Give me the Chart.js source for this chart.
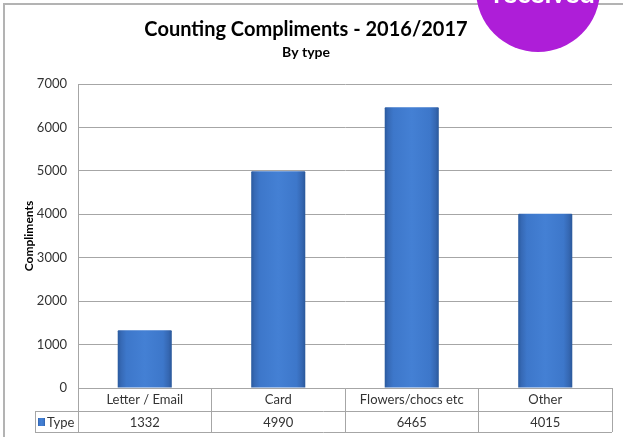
<!DOCTYPE html>
<html>
<head>
<meta charset="utf-8">
<script src="https://cdn.jsdelivr.net/npm/chart.js@4.4.1/dist/chart.umd.min.js"></script>
<style>
  html, body { margin: 0; padding: 0; background: #ffffff; }
  #wrap { width: 623px; height: 437px; position: relative; }
</style>
</head>
<body>
<div id="wrap"><canvas id="chart"></canvas></div>
<script>
// Compliments received, by type
const categories = ['Letter / Email', 'Card', 'Flowers/chocs etc', 'Other'];
const typeCounts = [1332, 4990, 6465, 4015];
const seriesName = 'Type';
const yMin = 0;
const yMax = 7000;
const yStep = 1000;
const chartTitle = 'Counting Compliments - 2016/2017';
const chartSubtitle = 'By type';
const yAxisTitle = 'Compliments';
const badgeText = 'received';

const FONT = 'Lato, "Open Sans", sans-serif';
const GRID = '#a6a6a6';
const BAR_PCT = 0.405;

function barGradient(ctx, x0, x1) {
  const g = ctx.createLinearGradient(x0, 0, x1, 0);
  g.addColorStop(0, '#2a5a9e');
  g.addColorStop(0.06, '#3669b5');
  g.addColorStop(0.16, '#3d77ca');
  g.addColorStop(0.5, '#4480d4');
  g.addColorStop(0.84, '#3d77ca');
  g.addColorStop(0.94, '#3567b2');
  g.addColorStop(1, '#2a589a');
  return g;
}

// Frame, data table rows and the round badge
const decorations = {
  id: 'decorations',
  beforeDraw(chart) {
    const c = chart.ctx;
    c.save();
    c.strokeStyle = '#b3b3b3';
    c.lineWidth = 2;
    c.beginPath();
    c.moveTo(4, chart.height);
    c.lineTo(4, 4);
    c.lineTo(chart.width, 4);
    c.stroke();
    c.restore();
  },
  afterDraw(chart) {
    const c = chart.ctx;
    const xs = chart.scales.x;
    const rowTop = xs.top + 23;
    const rowBottom = xs.top + 44;
    const tableLeft = 35;
    c.save();
    c.strokeStyle = GRID;
    c.lineWidth = 1;
    c.beginPath();
    c.moveTo(tableLeft, rowTop + 0.5);
    c.lineTo(xs.right, rowTop + 0.5);
    c.moveTo(tableLeft, rowBottom + 0.5);
    c.lineTo(xs.right, rowBottom + 0.5);
    c.moveTo(tableLeft + 0.5, rowTop);
    c.lineTo(tableLeft + 0.5, rowBottom);
    c.stroke();

    // legend key
    c.fillStyle = barGradient(c, 38, 45);
    c.fillRect(38, rowTop + 7, 7, 8);
    c.fillStyle = '#333333';
    c.font = '13px ' + FONT;
    c.textBaseline = 'middle';
    c.textAlign = 'left';
    c.fillText(seriesName, 47, (rowTop + rowBottom) / 2 + 1);

    // value row
    c.textAlign = 'center';
    typeCounts.forEach((v, i) => {
      c.fillText(String(v), xs.getPixelForValue(i), (rowTop + rowBottom) / 2 + 1);
    });

    // badge
    c.fillStyle = '#ae1ed8';
    c.beginPath();
    c.arc(538, -10, 62, 0, Math.PI * 2);
    c.fill();
    c.fillStyle = '#ffffff';
    c.font = 'bold 27px ' + FONT;
    c.textAlign = 'center';
    c.textBaseline = 'alphabetic';
    c.fillText(badgeText, 544, 3);
    c.restore();
  }
};

new Chart(document.getElementById('chart'), {
  type: 'bar',
  data: {
    labels: categories,
    datasets: [{
      label: seriesName,
      data: typeCounts,
      categoryPercentage: 1,
      barPercentage: BAR_PCT,
      borderWidth: 0,
      borderRadius: 1,
      backgroundColor(ctx) {
        const xs = ctx.chart.scales.x;
        if (!xs || ctx.type !== 'data' || !xs.width) return '#3f7bd0';
        const cx = xs.getPixelForValue(ctx.dataIndex);
        const w = xs.width / categories.length * BAR_PCT;
        return barGradient(ctx.chart.ctx, cx - w / 2, cx + w / 2);
      }
    }]
  },
  options: {
    responsive: true,
    maintainAspectRatio: false,
    animation: false,
    layout: { padding: { left: 0, right: 11, top: 0, bottom: 0 } },
    plugins: {
      legend: { display: false },
      tooltip: { enabled: false },
      title: {
        display: true,
        text: chartTitle,
        color: '#000000',
        font: { family: FONT, size: 20, weight: 'bold', lineHeight: 1.2 },
        padding: { top: 18, bottom: 0 }
      },
      subtitle: {
        display: true,
        text: chartSubtitle,
        color: '#000000',
        font: { family: FONT, size: 14, weight: 'bold', lineHeight: 1.2 },
        padding: { top: 2, bottom: 23.2 }
      }
    },
    scales: {
      x: {
        offset: true,
        grid: {
          offset: true,
          drawOnChartArea: false,
          drawTicks: true,
          tickLength: 44,
          color: GRID,
          lineWidth: 1
        },
        border: { display: true, color: GRID, width: 1 },
        ticks: {
          padding: -40,
          color: '#333333',
          font: { family: FONT, size: 13 },
          maxRotation: 0
        },
        afterFit(scale) { scale.height = 49; }
      },
      y: {
        min: yMin,
        max: yMax,
        ticks: {
          stepSize: yStep,
          padding: 11,
          color: '#333333',
          font: { family: FONT, size: 13 },
          callback: (v) => String(v)
        },
        grid: { drawTicks: false, color: GRID, lineWidth: 1 },
        border: { display: true, color: GRID, width: 1 },
        title: {
          display: true,
          text: yAxisTitle,
          color: '#000000',
          font: { family: FONT, size: 12, weight: 'bold', lineHeight: 1.2 },
          padding: { top: 22, bottom: 0 }
        },
        afterFit(scale) { scale.width = 78; }
      }
    }
  },
  plugins: [decorations]
});
</script>
</body>
</html>
